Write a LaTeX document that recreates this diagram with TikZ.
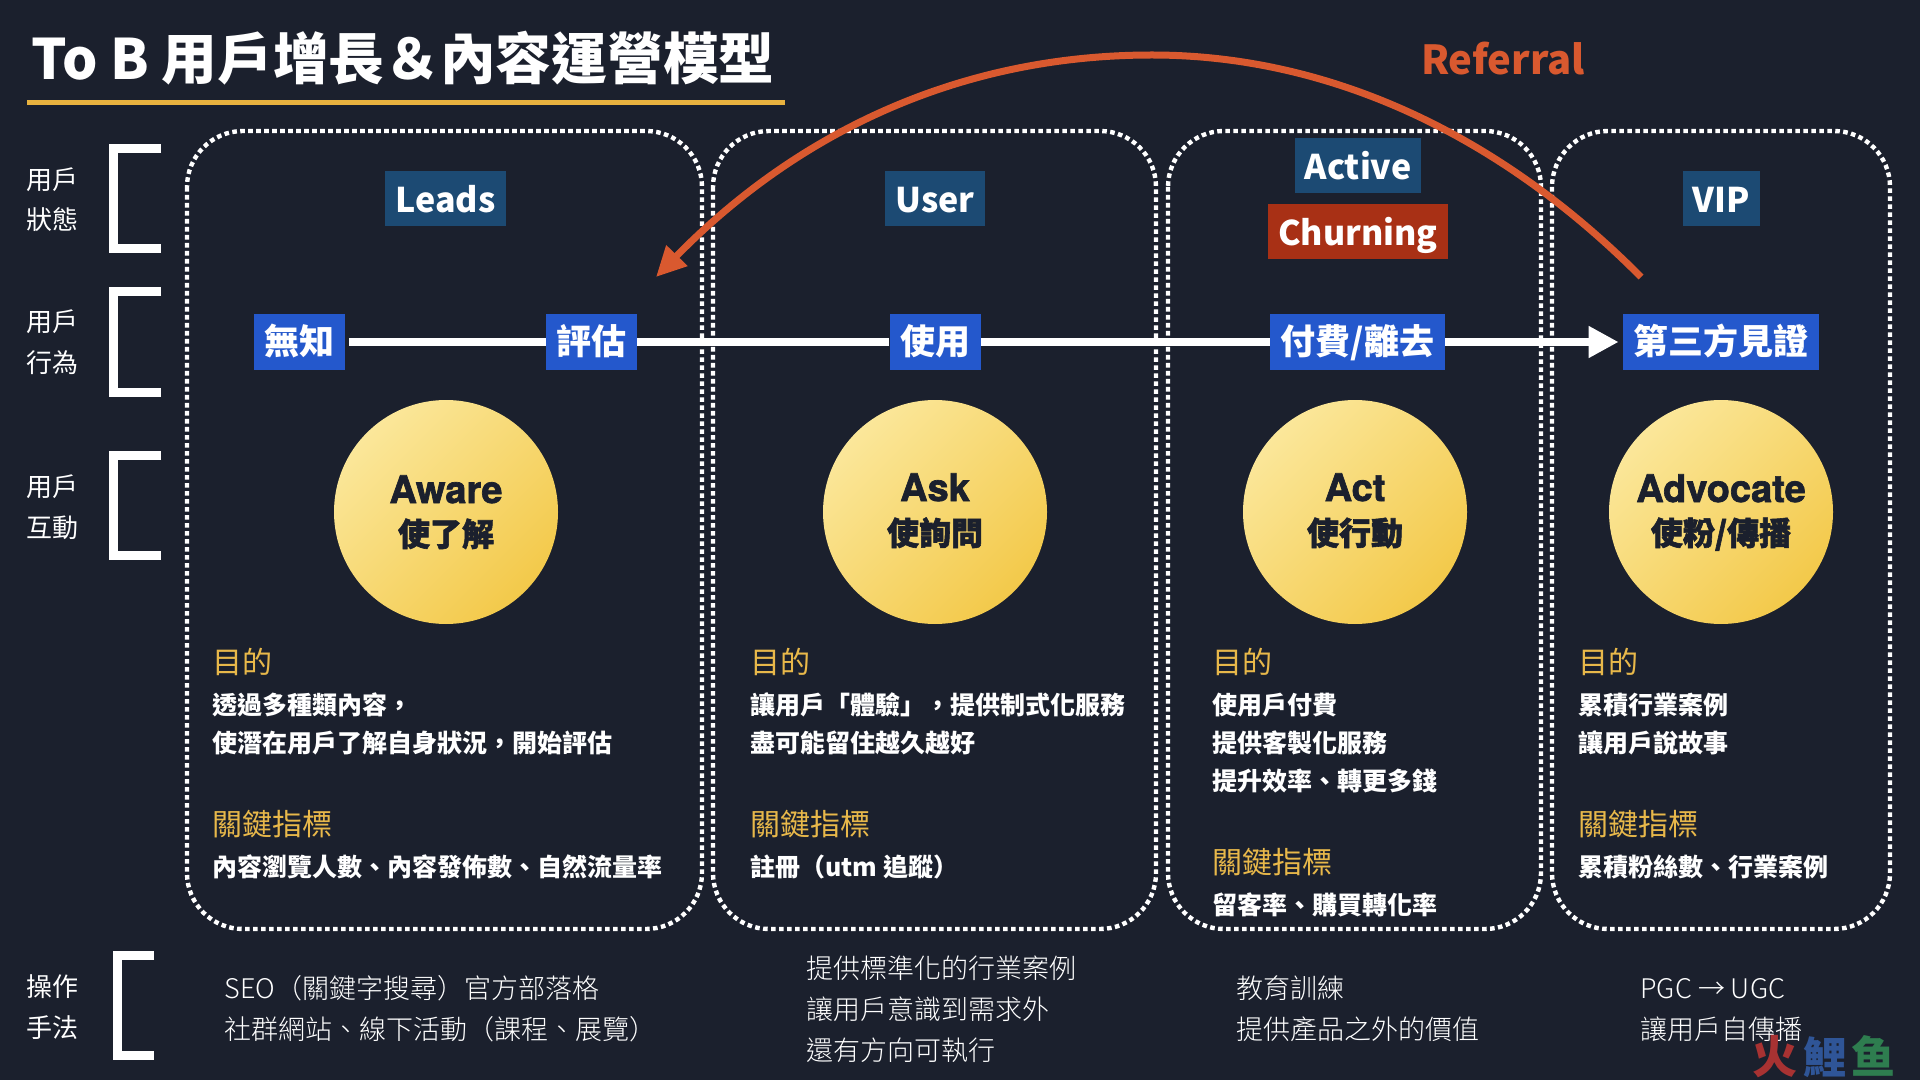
\documentclass[tikz,border=0pt]{standalone}
\usepackage{fontspec}
\usetikzlibrary{arrows.meta}
\setmainfont{Noto Sans CJK TC}
\newfontfamily\lightf{Noto Sans CJK TC Light}
\newfontfamily\circlat{TeX Gyre Heros}[BoldFeatures={FakeBold=1.8}]
\newfontfamily\circjk{Noto Sans CJK TC}[BoldFeatures={FakeBold=1.8}]
\definecolor{bgc}{HTML}{1B202D}
\definecolor{navyc}{HTML}{1C4A73}
\definecolor{bluec}{HTML}{2458CC}
\definecolor{redc}{HTML}{A83015}
\definecolor{goldc}{HTML}{E8B84A}
\definecolor{linec}{HTML}{E8B23F}
\definecolor{orangec}{HTML}{D9592F}
\definecolor{c1}{HTML}{FBE79A}
\definecolor{c2}{HTML}{F3C94A}
\definecolor{wmred}{HTML}{A83232}
\definecolor{wmblue}{HTML}{2F5597}
\definecolor{wmgreen}{HTML}{2E7D4F}
\tikzset{
  x=0.5pt,y=-0.5pt,
  badge/.style={inner sep=0,text=white,font=\fontsize{17}{20}\selectfont\bfseries,
    text height=15.5pt,text depth=1.5pt,minimum height=27.5pt},
  navybadge/.style={badge,fill=navyc},
  bluebadge/.style={badge,fill=bluec,font=\fontsize{17.5}{20}\selectfont\bfseries,text height=15pt,text depth=2pt},
  redbadge/.style={badge,fill=redc},
  zone/.style={draw=white,line width=2.2pt,dash pattern=on 2.3pt off 1.7pt,rounded corners=28pt},
  brack/.style={draw=white,line width=4.5pt,miter limit=10},
  flow/.style={draw=white,line width=4pt},
  ball/.style={circle,minimum size=112pt,inner sep=0,top color=c1,bottom color=c2,shading angle=45},
  ctitle/.style={anchor=base,inner sep=0,text=bgc,font=\fontsize{19}{22}\selectfont\circlat\bfseries},
  csub/.style={anchor=base,inner sep=0,text=bgc,font=\fontsize{16}{20}\selectfont\circjk\bfseries},
  side/.style={anchor=base west,inner sep=0,text=white,font=\fontsize{13}{16}\selectfont},
  head/.style={anchor=base west,inner sep=0,text=goldc,font=\fontsize{15}{18}\selectfont},
  body/.style={anchor=base west,inner sep=0,text=white,font=\fontsize{12.5}{15}\selectfont\bfseries},
  ops/.style={anchor=base west,inner sep=0,text=white,font=\fontsize{13.5}{16}\selectfont\lightf},
}
\begin{document}
\begin{tikzpicture}
\fill[bgc] (0,0) rectangle (1920,1080);
\useasboundingbox (0,0) rectangle (1920,1080);
% title
\node[anchor=base west,inner sep=0,text=white,font=\fontsize{27.85}{32}\selectfont\bfseries] (title) at (31,80) {To B 用戶增長＆內容運營模型};
\fill[linec] (27,100.5) rectangle (785,105.5);
% brackets
\draw[brack] (161,148.5) -- (113.5,148.5) -- (113.5,248.5) -- (161,248.5);
\draw[brack] (161,291.5) -- (113.5,291.5) -- (113.5,392.5) -- (161,392.5);
\draw[brack] (161,455.5) -- (113.5,455.5) -- (113.5,555) -- (161,555);
\draw[brack] (154,955.5) -- (117.5,955.5) -- (117.5,1055.5) -- (154,1055.5);
% side labels
\node[side] (s1a) at (26,190) {用戶};
\node[side] (s1b) at (26,230) {狀態};
\node[side] (s2a) at (26,332) {用戶};
\node[side] (s2b) at (26,372) {行為};
\node[side] (s3a) at (26,496) {用戶};
\node[side] (s3b) at (26,537) {互動};
\node[side] (s4a) at (26,996) {操作};
\node[side] (s4b) at (26,1037) {手法};
% zones
\draw[zone] (187,131) rectangle (702,929);
\draw[zone] (713,131) rectangle (1156,929);
\draw[zone] (1168,131) rectangle (1541,929);
\draw[zone] (1552,131) rectangle (1890,929);
% state badges
\node[navybadge,minimum width=60.5pt] (leads) at (445.5,199) {Leads};
\node[navybadge,minimum width=50pt] (user) at (935,199) {User};
\node[navybadge,minimum width=63pt] (active) at (1358,166) {Active};
\node[redbadge,minimum width=90pt] (churn) at (1358,232) {Churning};
\node[navybadge,minimum width=38.5pt] (vip) at (1721.5,199) {VIP};
% behaviour badges
\node[bluebadge,minimum width=45.5pt] (wz) at (299.5,342) {無知};
\node[bluebadge,minimum width=45.5pt] (pg) at (591.5,342) {評估};
\node[bluebadge,minimum width=45.5pt] (use) at (935,342) {使用};
\node[bluebadge,minimum width=87.5pt] (pay) at (1357.5,342) {付費/離去};
\node[bluebadge,minimum width=98pt] (third) at (1721,342) {第三方見證};
\draw[flow,shorten <=2pt] (wz.east) -- (pg.west);
\draw[flow] (pg.east) -- (use.west);
\draw[flow] (use.east) -- (pay.west);
\draw[flow,-{Triangle[length=15pt,width=15pt]},shorten >=2pt] (pay.east) -- (third.west);
% referral arc
\coordinate (refstart) at (1641,277);
\coordinate (refapex) at (1152,55);
\coordinate (refend) at (656,277);
\draw[orangec,line width=3.5pt,-{Triangle[length=15pt,width=14pt]}] (refstart) .. controls (1500,135) and (1330,55) .. (refapex) .. controls (950,55) and (790,140) .. (refend);
\node[anchor=base,inner sep=0,text=orangec,font=\fontsize{20}{24}\selectfont\bfseries] (ref) at (1503,75) {Referral};
% circles
\node[ball] (b1) at (446,512) {};
\node[ball] (b2) at (935,512) {};
\node[ball] (b3) at (1355,512) {};
\node[ball] (b4) at (1721,512) {};
\node[ctitle] (t1) at (446,503) {Aware};
\node[csub] (u1) at (446,546) {使了解};
\node[ctitle] (t2) at (935,501) {Ask};
\node[csub] (u2) at (935,545) {使詢問};
\node[ctitle] (t3) at (1355,501) {Act};
\node[csub] (u3) at (1355,545) {使行動};
\node[ctitle] (t4) at (1721,502) {Advocate};
\node[csub] (u4) at (1721,545) {使粉/傳播};
% zone 1 text
\node[head] (h1) at (212,673.5) {目的};
\node[body] (a1) at (212,714.5) {透過多種類內容，};
\node[body] (a2) at (212,752.5) {使潛在用戶了解自身狀況，開始評估};
\node[head] (k1) at (212,835.5) {關鍵指標};
\node[body] (m1) at (212,876.5) {內容瀏覽人數、內容發佈數、自然流量率};
% zone 2 text
\node[head] (h2) at (750,673.5) {目的};
\node[body] (b21) at (750,714.5) {讓用戶「體驗」，提供制式化服務};
\node[body] (b22) at (750,752.5) {盡可能留住越久越好};
\node[head] (k2) at (750,835.5) {關鍵指標};
\node[body] (m2) at (750,876.5) {註冊（utm 追蹤）};
% zone 3 text
\node[head] (h3) at (1212,673.5) {目的};
\node[body] (c1t) at (1212,714.5) {使用戶付費};
\node[body] (c2t) at (1212,752.5) {提供客製化服務};
\node[body] (c3t) at (1212,790.5) {提升效率、轉更多錢};
\node[head] (k3) at (1212,873.5) {關鍵指標};
\node[body] (m3) at (1212,914.5) {留客率、購買轉化率};
% zone 4 text
\node[head] (h4) at (1578,673.5) {目的};
\node[body] (d1) at (1578,714.5) {累積行業案例};
\node[body] (d2) at (1578,752.5) {讓用戶說故事};
\node[head] (k4) at (1578,835.5) {關鍵指標};
\node[body] (m4) at (1578,876.5) {累積粉絲數、行業案例};
% operations
\node[ops] (o1) at (224,998) {SEO（關鍵字搜尋）官方部落格};
\node[ops] (o2) at (224,1039) {社群網站、線下活動（課程、展覽）};
\node[ops] (o3) at (806,978) {提供標準化的行業案例};
\node[ops] (o4) at (806,1019) {讓用戶意識到需求外};
\node[ops] (o5) at (806,1060) {還有方向可執行};
\node[ops] (o6) at (1236,998) {教育訓練};
\node[ops] (o7) at (1236,1039) {提供產品之外的價值};
\node[ops] (o8) at (1640,998) {PGC → UGC};
\node[ops] (o9) at (1640,1039) {讓用戶自傳播};
% watermark
\node[anchor=base west,inner sep=0,text=wmred,font=\fontsize{22.5}{26}\selectfont\bfseries] (w1) at (1752,1073) {火};
\node[anchor=base west,inner sep=0,text=wmblue,font=\fontsize{21.5}{26}\selectfont\bfseries] (w2) at (1803,1073) {鯉};
\node[anchor=base west,inner sep=0,text=wmgreen,font=\fontsize{22}{26}\selectfont\bfseries] (w3) at (1851,1073) {鱼};
\end{tikzpicture}
\end{document}
